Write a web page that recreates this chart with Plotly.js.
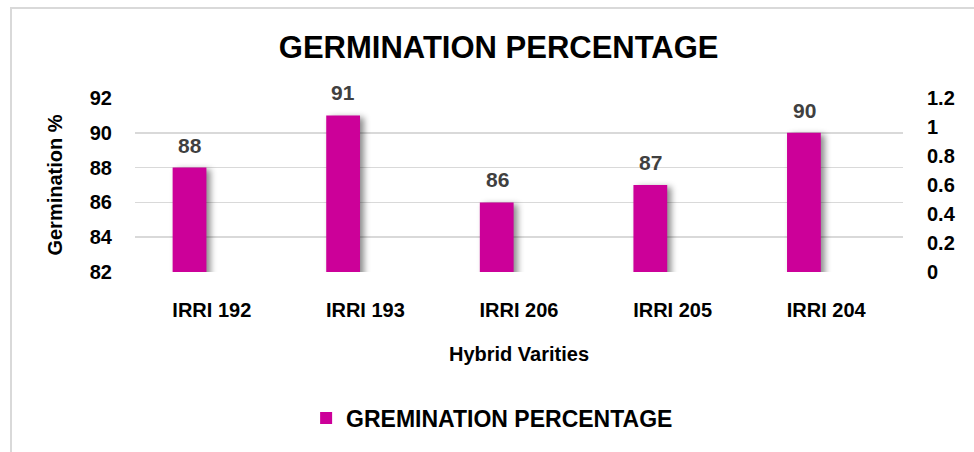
<!DOCTYPE html>
<html>
<head>
<meta charset="utf-8">
<script src="https://cdn.plot.ly/plotly-3.0.1.min.js"></script>
<style>
  html, body { margin: 0; padding: 0; background: #ffffff; }
  #wrap { position: relative; width: 974px; height: 452px; overflow: hidden; }
  #chart { position: absolute; left: 0; top: 0; width: 974px; height: 452px; }
  #frame { position: absolute; left: 10px; top: 7px; width: 1000px; height: 500px;
           border-left: 2px solid #d9d9d9; border-top: 2px solid #d9d9d9; pointer-events: none; }
  .barlayer .trace path { filter: drop-shadow(4px 2px 3px rgba(0,0,0,0.45)); }
</style>
</head>
<body>
<div id="wrap">
  <div id="frame"></div>
  <div id="chart"></div>
</div>
<script>
const categories = ["IRRI 192", "IRRI 193", "IRRI 206", "IRRI 205", "IRRI 204"];
const germination = [88, 91, 86, 87, 90];
const secondary = [null, null, null, null, null];
const leftTicks = [82, 84, 86, 88, 90, 92];
const rightTicks = [0, 0.2, 0.4, 0.6, 0.8, 1, 1.2];

const FONT = "Liberation Sans, Arial, sans-serif";

const traces = [
  {
    type: "bar",
    name: "GREMINATION PERCENTAGE",
    x: categories,
    y: germination,
    marker: { color: "#CC0099" },
    width: 0.22,
    offset: -0.255,
    hoverinfo: "x+y"
  },
  {
    type: "bar",
    name: "secondary",
    x: categories,
    y: secondary,
    yaxis: "y2",
    showlegend: false,
    marker: { color: "rgba(0,0,0,0)" },
    hoverinfo: "skip"
  }
];

const labelAnnotations = categories.map((c, i) => ({
  x: c, y: germination[i], xref: "x", yref: "y",
  text: String(germination[i]),
  showarrow: false,
  xanchor: "center", yanchor: "bottom",
  xshift: -22, yshift: 9,
  font: { family: FONT, size: 21, color: "#404040", weight: "bold" }
}));

const layout = {
  width: 974,
  height: 452,
  margin: { l: 135, r: 71, t: 98, b: 178 },
  paper_bgcolor: "rgba(0,0,0,0)",
  plot_bgcolor: "rgba(0,0,0,0)",
  font: { family: FONT, color: "#000000", weight: "bold" },
  title: {
    text: "GERMINATION PERCENTAGE",
    font: { family: FONT, size: 31, color: "#000000", weight: "bold" },
    xref: "container", yref: "container",
    x: 0.512, xanchor: "center",
    y: 0.895, yanchor: "middle"
  },
  xaxis: {
    type: "category",
    automargin: false,
    showgrid: false,
    showline: false,
    zeroline: false,
    ticks: "",
    ticklabelstandoff: 24,
    tickfont: { family: FONT, size: 20, color: "#000000", weight: "bold" },
    title: {
      text: "Hybrid Varities",
      font: { family: FONT, size: 20, color: "#000000", weight: "bold" },
      standoff: 26
    }
  },
  yaxis: {
    range: [82, 92],
    automargin: false,
    tickvals: leftTicks,
    ticktext: leftTicks.map(String),
    showgrid: true,
    gridcolor: "#d9d9d9",
    gridwidth: 1.5,
    zeroline: false,
    showline: false,
    ticks: "",
    ticklabelstandoff: 22,
    tickfont: { family: FONT, size: 20, color: "#000000", weight: "bold" },
    title: {
      text: "Germination %",
      font: { family: FONT, size: 20, color: "#000000", weight: "bold" },
      standoff: 21
    }
  },
  yaxis2: {
    overlaying: "y",
    side: "right",
    automargin: false,
    range: [0, 1.2],
    tickvals: rightTicks,
    ticktext: rightTicks.map(String),
    showgrid: false,
    zeroline: false,
    showline: false,
    ticks: "",
    ticklabelstandoff: 23,
    tickfont: { family: FONT, size: 20, color: "#000000", weight: "bold" }
  },
  annotations: labelAnnotations,
  showlegend: true,
  legend: {
    orientation: "h",
    x: 0.465, xanchor: "center",
    y: -0.84, yanchor: "middle",
    font: { family: FONT, size: 23, color: "#000000", weight: "bold" },
    bgcolor: "rgba(0,0,0,0)"
  },
  barmode: "group"
};

Plotly.newPlot("chart", traces, layout, { displayModeBar: false, staticPlot: true });
</script>
</body>
</html>
